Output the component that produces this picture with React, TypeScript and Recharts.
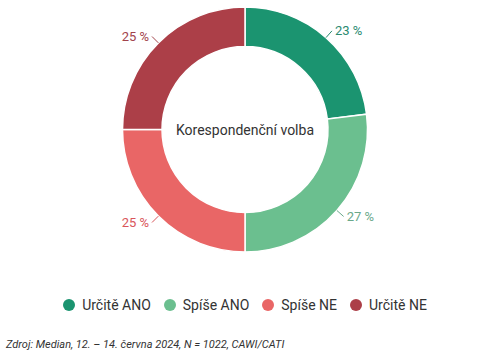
import { PieChart, Pie, Cell } from 'recharts'

const categories = ['Určitě ANO', 'Spíše ANO', 'Spíše NE', 'Určitě NE']
const shares = [23, 27, 25, 25]
const colors = ['#1b9470', '#6bbf8f', '#e96666', '#ac3f48']
const labelColors = ['#2a8a70', '#6aa88a', '#d9555a', '#a2434b']

const centerTitle = 'Korespondenční volba'
const sourceNote = 'Zdroj: Median, 12. – 14. června 2024, N = 1022, CAWI/CATI'

const data = categories.map((name, i) => ({ name, value: shares[i] }))

const RAD = Math.PI / 180
const FONT = 'Roboto, "Noto Sans", sans-serif'

function renderLabel(props: any) {
  const { cx, cy, midAngle, outerRadius, index, value } = props
  const cos = Math.cos(-midAngle * RAD)
  const sin = Math.sin(-midAngle * RAD)
  const x1 = cx + outerRadius * cos
  const y1 = cy + outerRadius * sin
  const x2 = cx + (outerRadius + 9) * cos
  const y2 = cy + (outerRadius + 9) * sin
  const right = cos >= 0
  const tx = x2 + (right ? 3 : -3)
  return (
    <g key={`lbl-${index}`}>
      <path d={`M${x1},${y1}L${x2},${y2}`} stroke={labelColors[index]} strokeWidth={1} fill="none" />
      <text
        x={tx}
        y={y2}
        textAnchor={right ? 'start' : 'end'}
        dominantBaseline="central"
        fill={labelColors[index]}
        fontSize={13}
        fontFamily={FONT}
      >
        {`${value} %`}
      </text>
    </g>
  )
}

export default function App() {
  return (
    <div style={{ position: 'absolute', left: 0, top: 0, width: 480, height: 356, background: '#fff' }}>
      <PieChart width={480} height={290} margin={{ top: 0, right: 0, bottom: 0, left: 0 }}>
        <Pie
          data={data}
          dataKey="value"
          nameKey="name"
          cx={245}
          cy={129.5}
          innerRadius={83}
          outerRadius={122.5}
          startAngle={90}
          endAngle={-270}
          stroke="#fff"
          strokeWidth={1.5}
          label={renderLabel}
          labelLine={false}
          isAnimationActive={false}
        >
          {data.map((d, i) => (
            <Cell key={d.name} fill={colors[i]} />
          ))}
        </Pie>
        <text x={245} y={130} textAnchor="middle" dominantBaseline="central" fontSize={14} fill="#333" fontFamily={FONT}>
          {centerTitle}
        </text>
      </PieChart>
      <div style={{ position: 'absolute', left: 0, top: 297, width: 490, display: 'flex', justifyContent: 'center', gap: 13, fontFamily: FONT, fontSize: 14, color: '#333' }}>
        {categories.map((c, i) => (
          <div key={c} style={{ display: 'flex', alignItems: 'center', gap: 7 }}>
            <span style={{ width: 12, height: 12, borderRadius: '50%', background: colors[i], display: 'inline-block' }} />
            <span>{c}</span>
          </div>
        ))}
      </div>
      <div style={{ position: 'absolute', left: 6, top: 338, fontFamily: FONT, fontSize: 11, fontStyle: 'italic', color: '#333' }}>
        {sourceNote}
      </div>
    </div>
  )
}
